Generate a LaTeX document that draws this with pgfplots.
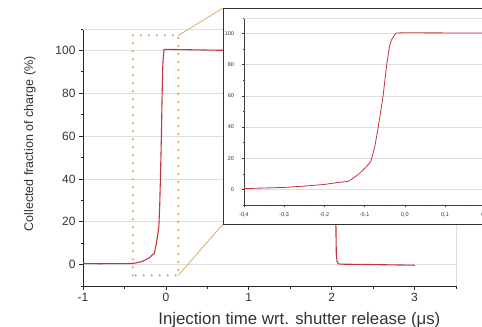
\documentclass[border=0pt]{standalone}
\usepackage{pgfplots}
\pgfplotsset{compat=1.18}
\usepackage{pgfplotstable}
\usepackage{fontspec}
\setmainfont{Liberation Sans}
\definecolor{curve}{RGB}{200,50,60}
\definecolor{dotor}{RGB}{222,160,70}
\definecolor{conn}{RGB}{215,180,115}
\definecolor{gridc}{RGB}{222,222,222}
\pgfplotstableread{
x y
-1.0 0.5
-0.8 0.4
-0.6 0.45
-0.4 0.5
-0.35 0.9
-0.3 1.3
-0.25 2.1
-0.2 3.2
-0.17 4.3
-0.14 5.2
-0.115 9.7
-0.1 13.5
-0.085 17.6
-0.075 27
-0.066 40
-0.054 60
-0.045 80
-0.038 92
-0.033 96
-0.022 100.4
0.0 100.5
0.3 100.3
0.6 100.1
1.0 100.0
1.5 99.7
2.0 99.4
2.044 99.2
2.048 50
2.052 15
2.056 5
2.065 1.5
2.08 0.5
2.1 0.2
2.5 0.0
3.0 -0.3
}\datatable
\begin{document}
\begin{tikzpicture}
% main axis
\begin{axis}[
  scale only axis, width=373bp, height=257bp,
  at={(83bp,41bp)}, anchor=south west,
  xmin=-1, xmax=3.5, ymin=-10, ymax=110,
  axis x line*=bottom, axis y line*=left,
  xtick={-1,0,1,2,3}, minor xtick={-0.5,0.5,1.5,2.5,3.5},
  ytick={0,20,40,60,80,100}, minor ytick={-10,10,30,50,70,90,110},
  tick align=outside, major tick length=4bp, minor tick length=2.5bp,
  ymajorgrids, major grid style={gridc, line width=0.7pt},
  axis line style={black!85, line width=0.8pt},
  tick style={black!85, line width=0.7pt},
  ticklabel style={font=\fontsize{12bp}{14bp}\selectfont, text=black!80},
  /pgf/number format/assume math mode=true,
  xlabel={Injection time wrt. shutter release (μs)},
  xlabel style={font=\fontsize{16.8bp}{18bp}\selectfont, text=black!80, at={(rel axis cs:0.58,0)}, anchor=center, yshift=-34bp},
  clip=false,
]
\draw[gridc, line width=0.7pt] (rel axis cs:0,1) -- (rel axis cs:1,1) -- (rel axis cs:1,0);
\addplot[curve, line width=1.1pt, no marks] table[x=x,y=y] {\datatable};
\draw[dotor, line width=2.3bp, line cap=round, dash pattern=on 0pt off 8bp] (axis cs:-0.4,-5) rectangle (axis cs:0.15,107);
\coordinate (A) at (axis cs:0.15,107);
\coordinate (B) at (axis cs:0.15,-5);
\node[rotate=90, anchor=center, font=\fontsize{12.5bp}{14bp}\selectfont, text=black!80] at ([xshift=-53bp]rel axis cs:0,0.553) {Collected fraction of charge (\%)};
\end{axis}
\draw[conn, line width=0.9pt] (A) -- (223bp,319bp);
\draw[conn, line width=0.9pt] (B) -- (223bp,103bp);
\filldraw[fill=white, draw=black!80, line width=0.9pt] (223bp,103bp) rectangle (600bp,319bp);
% inset axis
\begin{axis}[
  scale only axis, width=281.4bp, height=187bp,
  at={(244bp,122bp)}, anchor=south west,
  xmin=-0.4, xmax=0.3, ymin=-10, ymax=110,
  axis x line*=bottom, axis y line*=left,
  xtick={-0.4,-0.3,-0.2,-0.1,0,0.1,0.2,0.3},
  minor xtick={-0.35,-0.25,-0.15,-0.05,0.05,0.15,0.25},
  ytick={0,20,40,60,80,100}, minor ytick={-10,10,30,50,70,90,110},
  tick align=outside, major tick length=2.5bp, minor tick length=1.5bp,
  ymajorgrids, major grid style={gridc, line width=0.6pt},
  axis line style={black!75, line width=0.6pt},
  tick style={black!75, line width=0.5pt},
  ticklabel style={font=\fontsize{5.5bp}{6bp}\selectfont, text=black!80},
  yticklabel style={xshift=-4bp},
  xticklabel style={yshift=-2bp, /pgf/number format/.cd, fixed, fixed zerofill, precision=1, use comma},
  /pgf/number format/assume math mode=true,
]
\draw[gridc, line width=0.6pt] (rel axis cs:0,1) -- (rel axis cs:1,1);
\addplot[curve, line width=0.8pt, no marks] table[x=x,y=y] {\datatable};
\end{axis}
\pgfresetboundingbox
\useasboundingbox (0,0) rectangle (482bp,327bp);
\end{tikzpicture}
\end{document}
